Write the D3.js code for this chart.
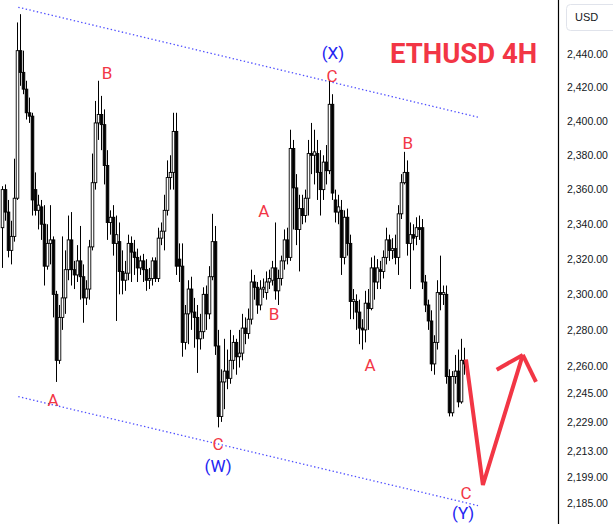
<!DOCTYPE html>
<html><head><meta charset="utf-8">
<script src="https://cdn.jsdelivr.net/npm/d3@7"></script>
<style>html,body{margin:0;padding:0;background:#fff;overflow:hidden}svg{display:block}</style>
</head><body><div id="chart"></div>
<script>
// ---- data (ETHUSD 4H) ----
const opens = [
2338,2360,2347,2325,2333,2355,2442,2429,2419,2405,
2403,2360,2348,2350,2340,2316,2329,2331,2300,2263,
2287,2298,2314,2331,2314,2311,2319,2310,2298,2303,
2327,2364,2399,2404,2398,2374,2341,2344,2329,2330,
2313,2308,2312,2329,2324,2321,2315,2319,2314,2308,
2309,2319,2309,2332,2336,2348,2367,2370,2394,2320,
2316,2273,2289,2303,2290,2287,2275,2279,2300,2289,
2310,2330,2271,2232,2251,2257,2253,2263,2273,2265,
2267,2281,2278,2286,2307,2304,2294,2303,2301,2307,
2308,2315,2302,2309,2319,2331,2321,2384,2361,2337,
2349,2345,2355,2381,2380,2381,2370,2360,2376,2371,
2410,2354,2347,2348,2321,2344,2329,2296,2296,2290,
2281,2280,2295,2292,2315,2307,2314,2313,2321,2331,
2325,2326,2321,2346,2364,2370,2329,2334,2333,2338,
2338,2307,2294,2285,2261,2273,2301,2300,2300,2254,
2234,2254,2257,2240,2263];
const highs = [
2362,2363,2354,2342,2378,2459,2464,2442,2424,2414,
2405,2370,2357,2354,2351,2340,2351,2333,2302,2294,
2333,2325,2345,2347,2319,2328,2339,2317,2308,2331,
2381,2412,2424,2415,2407,2383,2348,2351,2345,2341,
2325,2319,2334,2333,2331,2326,2322,2323,2320,2315,
2321,2321,2338,2341,2357,2377,2380,2405,2405,2329,
2329,2294,2308,2310,2298,2294,2289,2304,2305,2316,
2346,2339,2280,2258,2275,2269,2280,2277,2275,2280,
2289,2287,2292,2314,2311,2307,2308,2309,2313,2314,
2319,2341,2314,2322,2337,2338,2395,2389,2369,2357,
2357,2360,2389,2399,2395,2389,2383,2380,2386,2424,
2416,2360,2357,2354,2348,2349,2334,2303,2300,2297,
2286,2302,2303,2321,2322,2320,2319,2325,2338,2334,
2332,2334,2351,2369,2382,2377,2341,2340,2344,2345,
2343,2311,2297,2291,2277,2308,2322,2305,2305,2258,
2257,2266,2269,2275,2270];
const lows = [
2315,2342,2321,2317,2330,2354,2421,2416,2401,2399,
2345,2345,2337,2331,2305,2314,2317,2287,2251,2261,
2280,2289,2308,2305,2303,2307,2297,2284,2294,2297,
2325,2360,2389,2383,2363,2331,2334,2322,2285,2300,
2300,2302,2308,2307,2311,2307,2311,2307,2302,2303,
2305,2307,2307,2328,2325,2345,2360,2360,2311,2307,
2265,2269,2272,2280,2270,2256,2269,2275,2280,2286,
2308,2266,2226,2229,2236,2247,2250,2258,2255,2259,
2263,2272,2275,2283,2297,2289,2291,2298,2297,2303,
2305,2297,2294,2305,2314,2317,2319,2337,2328,2313,
2340,2341,2345,2369,2363,2354,2345,2354,2363,2369,
2354,2341,2340,2311,2317,2322,2286,2286,2280,2272,
2269,2273,2280,2291,2297,2303,2303,2309,2317,2319,
2320,2317,2311,2343,2363,2322,2303,2325,2328,2331,
2303,2290,2280,2257,2255,2269,2291,2294,2250,2232,
2232,2250,2237,2239,2255];
const closes = [
2360,2347,2325,2333,2355,2442,2429,2419,2405,2403,
2354,2348,2351,2340,2316,2329,2331,2300,2263,2287,
2298,2314,2331,2314,2311,2319,2310,2298,2303,2327,
2364,2399,2404,2398,2374,2341,2344,2329,2334,2313,
2308,2312,2329,2324,2321,2315,2319,2314,2308,2309,
2319,2309,2332,2336,2348,2367,2370,2394,2316,2316,
2273,2289,2303,2290,2287,2275,2279,2300,2289,2310,
2330,2271,2232,2251,2257,2253,2263,2273,2265,2267,
2281,2278,2286,2307,2304,2294,2303,2304,2307,2309,
2315,2302,2309,2319,2331,2321,2384,2361,2337,2349,
2345,2355,2381,2380,2382,2370,2360,2376,2371,2410,
2358,2347,2350,2321,2344,2329,2296,2297,2290,2281,
2280,2295,2292,2315,2307,2315,2313,2321,2331,2325,
2326,2321,2346,2364,2370,2329,2334,2332,2338,2337,
2307,2294,2285,2261,2273,2301,2300,2301,2254,2234,
2254,2257,2240,2263,2261];

const priceTicks = [2440,2420,2400,2380,2360,2340,2320,2300,2280,2260,2245,2229,2213,2199,2185];

// wave labels: text, bar index, price, degree
const waveText   = ["B","A","C","(W)","A","B","(X)","C","B","A","C","(Y)"];
const waveIdx    = [35, 17, 72, 72, 87.3, 90.7, 110.3, 110, 135.3, 122.7, 154.7, 153.7];
const wavePrice  = [2428.6, 2241.3, 2216.9, 2205.0, 2347.6, 2289.0, 2440.6, 2426.8, 2387.1, 2260.6, 2190.6, 2179.4];
const waveDegree = ["minor","minor","minor","inter","minor","minor","inter","minor","minor","minor","minor","inter"];

// channel lines (bar index, price)
const channelIdx   = [5.43, 158.67];
const upperPrice   = [2468.2, 2402.4];
const lowerPrice   = [2242.9, 2183.6];

// projected path arrow
const arrowIdx   = [154.67, 160.3, 173.6];
const arrowPrice = [2263.4, 2194.7, 2266.0];
const headIdx    = [164.9, 178];
const headPrice  = [2257.8, 2251.1];

const titleText = "ETHUSD 4H";
const currency = "USD";

// ---- drawing ----
const W = 613, H = 524, axisX = 558;
const RED = "#f23645", BLUE = "#2424f2";
const svg = d3.select("#chart").append("svg").attr("width", W).attr("height", H);

const n = closes.length;
const x = d3.scaleLinear().domain([0, n - 1]).range([2, 464]);
const y = d3.scaleLog().domain([2185, 2440]).range([503, 54]);

const bars = d3.range(n).map(i => ({i, o: opens[i], h: Math.max(highs[i], opens[i], closes[i]), l: Math.min(lows[i], opens[i], closes[i]), c: closes[i]}));

const plot = svg.append("g");
// channel lines
const line = d3.line().x(d => x(d[0])).y(d => y(d[1]));
[upperPrice, lowerPrice].forEach(pr => {
  plot.append("path")
    .attr("d", line(channelIdx.map((v, k) => [v, pr[k]])))
    .attr("fill", "none").attr("stroke", "#5050ff").attr("stroke-width", 1.3)
    .attr("stroke-dasharray", "1.4,2.4");
});

// candles
const cg = plot.append("g");
cg.selectAll("line.wick").data(bars).join("line")
  .attr("x1", d => Math.round(x(d.i)) + 0.5).attr("x2", d => Math.round(x(d.i)) + 0.5)
  .attr("y1", d => y(d.h)).attr("y2", d => y(d.l))
  .attr("stroke", "#000").attr("stroke-width", 1);
cg.selectAll("rect.body").data(bars).join("rect")
  .attr("x", d => Math.round(x(d.i)) - 0.8)
  .attr("width", 2.6)
  .attr("y", d => y(Math.max(d.o, d.c)))
  .attr("height", d => Math.max(0.8, Math.abs(y(d.o) - y(d.c))))
  .attr("fill", d => d.c >= d.o ? "#fff" : "#000")
  .attr("stroke", "#000").attr("stroke-width", 0.9);

// arrow
plot.append("path")
  .attr("d", line(arrowIdx.map((v, k) => [v, arrowPrice[k]])))
  .attr("fill", "none").attr("stroke", RED).attr("stroke-width", 4).attr("stroke-linejoin", "miter").attr("stroke-linecap", "butt");
headIdx.forEach((v, k) => {
  plot.append("path")
    .attr("d", line([[arrowIdx[2], arrowPrice[2]], [v, headPrice[k]]]))
    .attr("fill", "none").attr("stroke", RED).attr("stroke-width", 4).attr("stroke-linecap", "butt");
});

// wave labels
plot.selectAll("text.wave").data(waveText).join("text")
  .attr("x", (d, k) => x(waveIdx[k])).attr("y", (d, k) => y(wavePrice[k]))
  .attr("text-anchor", "middle").attr("dominant-baseline", "central")
  .attr("font-family", "Roboto, 'Noto Sans', sans-serif").attr("font-size", 17)
  .attr("fill", (d, k) => waveDegree[k] === "inter" ? BLUE : RED)
  .text(d => d);

// title
svg.append("text").attr("x", 390).attr("y", 63)
  .attr("font-family", "Roboto, sans-serif").attr("font-weight", 700).attr("font-size", 27.5)
  .attr("fill", RED).text(titleText);

// right axis
svg.append("line").attr("x1", axisX + 0.5).attr("x2", axisX + 0.5).attr("y1", 0).attr("y2", H)
  .attr("stroke", "#000").attr("stroke-width", 1.2);
const ax = svg.append("g").attr("transform", `translate(${axisX},0)`)
  .call(d3.axisRight(y).tickValues(priceTicks).tickFormat(d3.format(",.2f")).tickSize(0).tickPadding(9));
ax.select(".domain").remove();
ax.selectAll("text").attr("font-family", "'Liberation Sans', Arial, sans-serif").attr("font-size", 10.5).attr("fill", "#131722");

// currency box
svg.append("rect").attr("x", 566.5).attr("y", 4.5).attr("width", 52).attr("height", 26).attr("rx", 4)
  .attr("fill", "#fff").attr("stroke", "#e0e3eb");
svg.append("text").attr("x", 575).attr("y", 21).attr("font-family", "'Liberation Sans', Arial, sans-serif")
  .attr("font-size", 11).attr("fill", "#131722").text(currency);
</script></body></html>
